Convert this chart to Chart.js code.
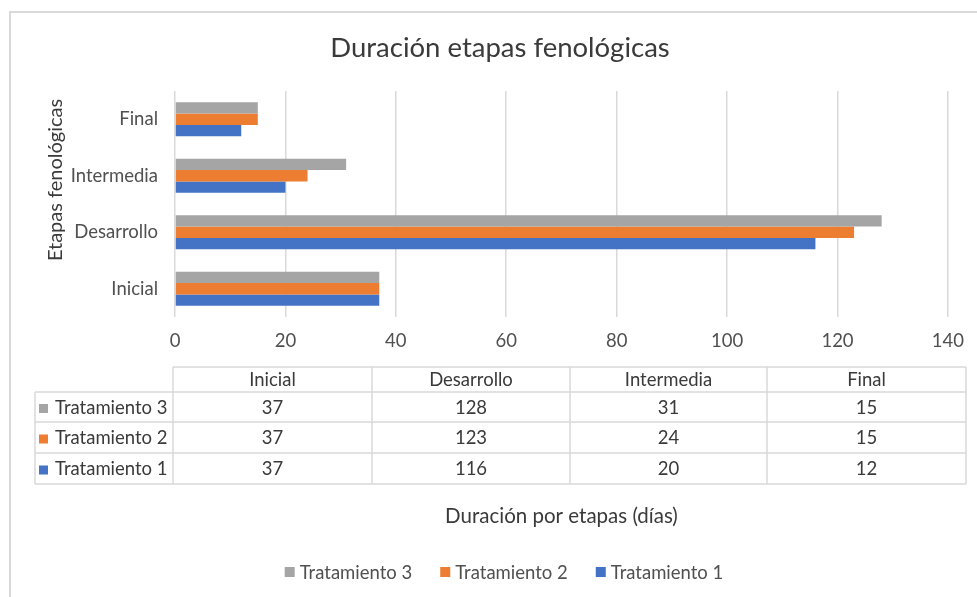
<!DOCTYPE html>
<html>
<head>
<meta charset="utf-8">
<script src="https://cdn.jsdelivr.net/npm/chart.js@4.4.1/dist/chart.umd.min.js"></script>
<style>
  html, body { margin: 0; padding: 0; background: #ffffff; }
  #wrap { position: relative; width: 977px; height: 597px; }
</style>
</head>
<body>
<div id="wrap"><canvas id="c" width="977" height="597"></canvas></div>
<script>
const chartTitle = "Duración etapas fenológicas";
const xAxisTitle = "Duración por etapas (días)";
const yAxisTitle = "Etapas fenológicas";
const categories = ["Inicial", "Desarrollo", "Intermedia", "Final"];
const seriesNames = ["Tratamiento 3", "Tratamiento 2", "Tratamiento 1"];
const tratamiento3 = [37, 128, 31, 15];
const tratamiento2 = [37, 123, 24, 15];
const tratamiento1 = [37, 116, 20, 12];
const seriesColors = ["#A5A5A5", "#ED7D31", "#4472C4"];
const xMin = 0, xMax = 140, xStep = 20;

const FONT = "Lato, 'Open Sans', sans-serif";
const TEXT = "#505050";
const DARK = "#3a3a3a";
const LINE = "#d9d9d9";

const tableAndTitles = {
  id: 'tableAndTitles',
  afterDraw(chart) {
    const ctx = chart.ctx;
    const area = chart.chartArea;
    ctx.save();
    // outer border (partially visible)
    ctx.strokeStyle = LINE;
    ctx.lineWidth = 2;
    ctx.beginPath();
    ctx.moveTo(10, 600); ctx.lineTo(10, 12); ctx.lineTo(980, 12);
    ctx.stroke();

    // chart title
    ctx.fillStyle = DARK;
    ctx.font = "27.5px " + FONT;
    ctx.textAlign = "center";
    ctx.textBaseline = "middle";
    ctx.fillText(chartTitle, 500, 48);

    // y axis title
    ctx.save();
    ctx.translate(56, 180);
    ctx.rotate(-Math.PI / 2);
    ctx.fillStyle = DARK;
    ctx.font = "20px " + FONT;
    ctx.fillText(yAxisTitle, 0, 0);
    ctx.restore();

    // data table
    const colX = [173, 372, 570, 767, 966];
    const rowY = [367, 392, 422, 453, 484];
    const leftX = 35;
    const datasets = chart.data.datasets;
    ctx.strokeStyle = LINE;
    ctx.lineWidth = 1.5;
    ctx.beginPath();
    ctx.moveTo(colX[0], rowY[0]); ctx.lineTo(colX[4], rowY[0]);
    for (let r = 1; r < rowY.length; r++) {
      ctx.moveTo(leftX, rowY[r]); ctx.lineTo(colX[4], rowY[r]);
    }
    ctx.moveTo(leftX, rowY[1]); ctx.lineTo(leftX, rowY[4]);
    for (let c = 0; c < colX.length; c++) {
      ctx.moveTo(colX[c], rowY[0]); ctx.lineTo(colX[c], rowY[4]);
    }
    ctx.stroke();

    ctx.font = "18.5px " + FONT;
    ctx.fillStyle = DARK;
    ctx.textAlign = "center";
    ctx.textBaseline = "middle";
    chart.data.labels.forEach((lab, i) => {
      ctx.fillText(lab, (colX[i] + colX[i + 1]) / 2, (rowY[0] + rowY[1]) / 2 + 1);
    });
    datasets.forEach((ds, r) => {
      const cy = (rowY[r + 1] + rowY[r + 2]) / 2 + 1;
      ctx.fillStyle = ds.backgroundColor;
      ctx.fillRect(39, cy - 4, 9, 9);
      ctx.fillStyle = DARK;
      ctx.textAlign = "left";
      ctx.fillText(ds.label, 55, cy);
      ctx.textAlign = "center";
      ds.data.forEach((v, i) => {
        ctx.fillText(String(v), (colX[i] + colX[i + 1]) / 2, cy);
      });
    });

    // x axis title
    ctx.fillStyle = DARK;
    ctx.font = "20.5px " + FONT;
    ctx.textAlign = "center";
    ctx.fillText(xAxisTitle, (area.left + area.right) / 2, 516);

    // legend
    ctx.font = "18.5px " + FONT;
    const gap = 28, boxW = 10, boxGap = 5;
    const widths = datasets.map(ds => boxW + boxGap + ctx.measureText(ds.label).width);
    const total = widths.reduce((a, b) => a + b, 0) + gap * (datasets.length - 1);
    let x = 504 - total / 2;
    const ly = 572;
    ctx.textAlign = "left";
    datasets.forEach((ds, i) => {
      ctx.fillStyle = ds.backgroundColor;
      ctx.fillRect(x, ly - 5, boxW, boxW);
      ctx.fillStyle = TEXT;
      ctx.fillText(ds.label, x + boxW + boxGap, ly + 1);
      x += widths[i] + gap;
    });
    ctx.restore();
  }
};

new Chart(document.getElementById('c'), {
  type: 'bar',
  data: {
    labels: categories,
    datasets: [
      { label: seriesNames[0], data: tratamiento3, backgroundColor: seriesColors[0] },
      { label: seriesNames[1], data: tratamiento2, backgroundColor: seriesColors[1] },
      { label: seriesNames[2], data: tratamiento1, backgroundColor: seriesColors[2] }
    ]
  },
  options: {
    indexAxis: 'y',
    responsive: false,
    animation: false,
    devicePixelRatio: 1,
    layout: { padding: { top: 91, left: 0, right: 26, bottom: 240 } },
    datasets: { bar: { categoryPercentage: 0.6, barPercentage: 1.0 } },
    plugins: { legend: { display: false }, title: { display: false }, tooltip: { enabled: false } },
    scales: {
      x: {
        min: xMin, max: xMax,
        ticks: { stepSize: xStep, color: TEXT, font: { family: FONT, size: 18.5 }, padding: 13 },
        grid: { color: LINE, lineWidth: 1.5, drawTicks: false },
        border: { display: false },
        afterFit(scale) { scale.height = 40; }
      },
      y: {
        reverse: true,
        ticks: { color: TEXT, font: { family: FONT, size: 18.5 }, padding: 17 },
        grid: { display: false, drawTicks: false },
        border: { display: false },
        afterFit(scale) { scale.width = 175; }
      }
    }
  },
  plugins: [tableAndTitles]
});
</script>
</body>
</html>
